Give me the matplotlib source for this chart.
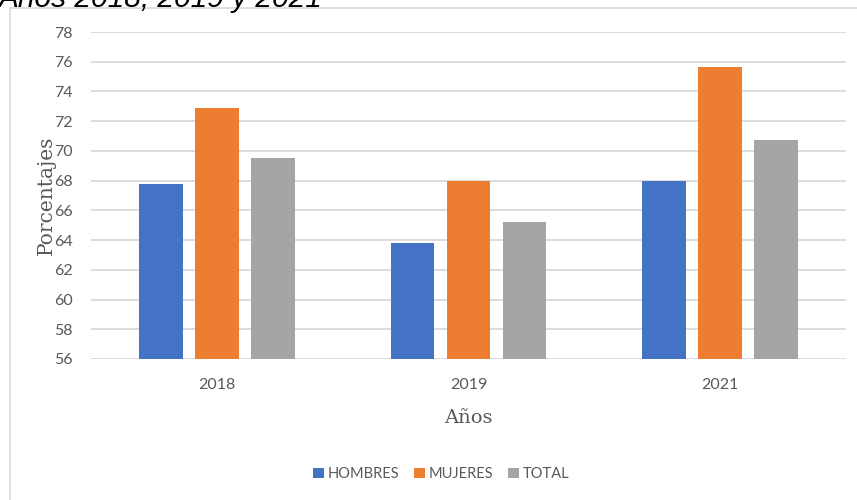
import matplotlib.pyplot as plt
from matplotlib.patches import Rectangle
import numpy as np

years = ['2018', '2019', '2021']
hombres = [67.75, 63.8, 67.95]
mujeres = [72.9, 68.0, 75.65]
total = [69.5, 65.25, 70.75]
series_names = ['HOMBRES', 'MUJERES', 'TOTAL']
colors = ['#4472C4', '#ED7D31', '#A5A5A5']
yticks = list(range(56, 79, 2))

TEXT_GRAY = '#595959'
GRID = '#D9D9D9'


def main():
    fig = plt.figure(figsize=(8.57, 5.0), dpi=100)
    ax = fig.add_axes([91 / 857, 1 - 359 / 500, (846 - 91) / 857, (359 - 32) / 500])

    # outer chart frame (only top/left visible in the crop)
    fig.patches.append(Rectangle((10 / 857, -0.1), 1.2, 1 - 8.3 / 500 + 0.1,
                                 transform=fig.transFigure, fill=False,
                                 edgecolor=GRID, lw=1.2))

    x = np.arange(len(years))
    width = 0.173
    step = 0.2227
    for i, (vals, name) in enumerate(zip([hombres, mujeres, total], series_names)):
        ax.bar(x + (i - 1) * step, np.array(vals) - 56, bottom=56, width=width,
               color=colors[i], label=name, zorder=3)

    ax.set_xlim(-0.5, 2.5)
    ax.set_ylim(56, 78)
    ax.set_yticks(yticks)
    ax.set_xticks(x)
    ax.set_xticklabels(years)
    ax.yaxis.grid(True, color=GRID, lw=1.3, zorder=0)
    ax.set_axisbelow(True)
    for s in ax.spines.values():
        s.set_visible(False)
    ax.tick_params(axis='both', length=0, labelcolor=TEXT_GRAY, labelsize=11.5)
    ax.tick_params(axis='y', pad=13)
    ax.tick_params(axis='x', pad=14)
    for lab in ax.get_xticklabels() + ax.get_yticklabels():
        lab.set_family('Lato')

    ax.set_xlabel('Años', family='DejaVu Serif', fontsize=14,
                  color=TEXT_GRAY, labelpad=12)
    ax.set_ylabel('Porcentajes', family='DejaVu Serif', fontsize=14.5,
                  color=TEXT_GRAY, labelpad=-1)

    fig.text(-0.002, 1 - 7 / 500, 'Años 2018, 2019 y 2021', family='Liberation Sans',
             style='italic', fontsize=21.5, va='baseline', ha='left', color='#000000')

    leg = fig.legend(loc='center', bbox_to_anchor=(441 / 857, 1 - 474 / 500), ncol=3,
                     frameon=False, handlelength=0.75, handleheight=0.75,
                     handletextpad=0.25, columnspacing=1.0,
                     prop={'family': 'Lato', 'size': 10.5})
    for t in leg.get_texts():
        t.set_color(TEXT_GRAY)

    fig.savefig('out.png', dpi=100)


if __name__ == '__main__':
    main()
